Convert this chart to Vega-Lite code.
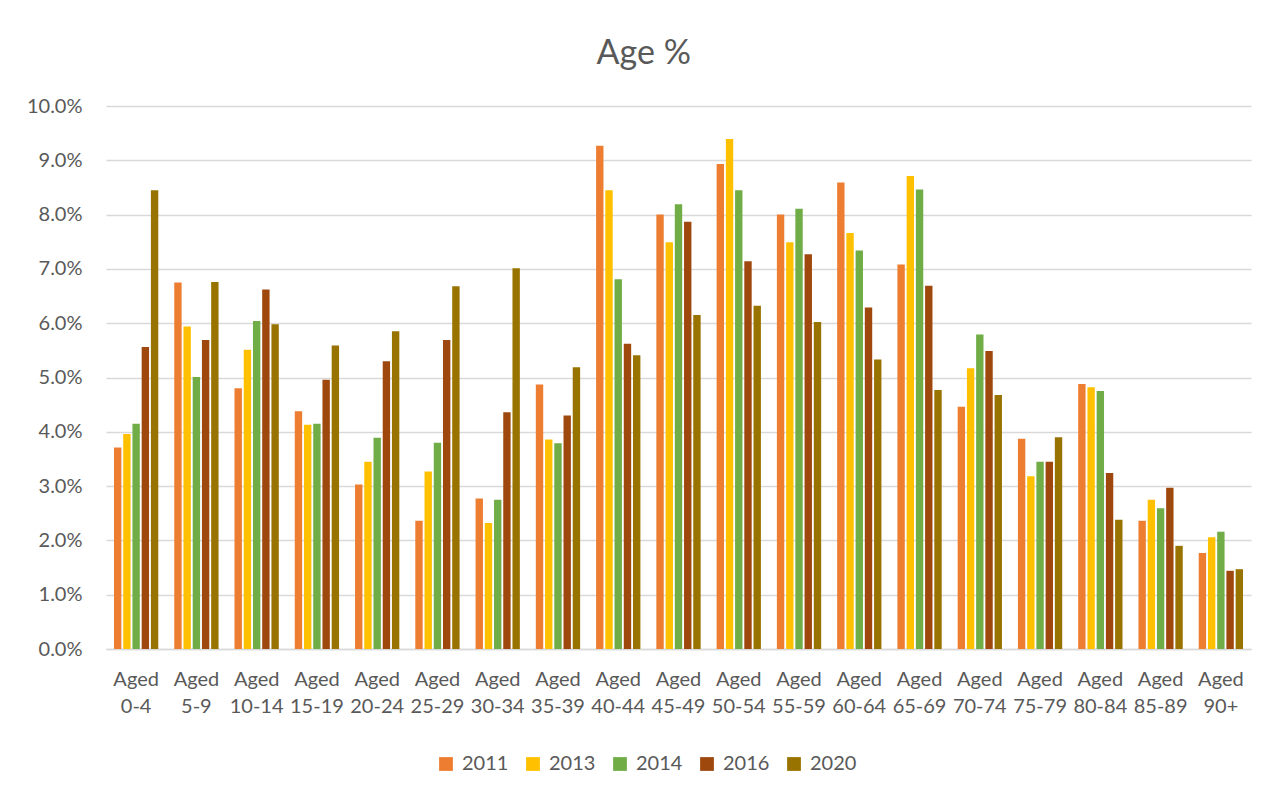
{
  "$schema": "https://vega.github.io/schema/vega-lite/v6.json",
  "width": 1145,
  "height": 543,
  "padding": {"left": 26, "top": 37, "right": 30, "bottom": 20},
  "background": "white",
  "title": {"text": "Age %", "fontSize": 34, "fontWeight": "normal", "color": "#595959", "anchor": "middle", "frame": "bounds", "offset": 25, "dx": 5, "font": "Lato"},
  "data": {
    "values": [
      {"age": "Aged 0-4", "2011": 3.71, "2013": 3.96, "2014": 4.15, "2016": 5.56, "2020": 8.45},
      {"age": "Aged 5-9", "2011": 6.75, "2013": 5.94, "2014": 5.01, "2016": 5.69, "2020": 6.76},
      {"age": "Aged 10-14", "2011": 4.80, "2013": 5.51, "2014": 6.04, "2016": 6.62, "2020": 5.98},
      {"age": "Aged 15-19", "2011": 4.38, "2013": 4.13, "2014": 4.15, "2016": 4.96, "2020": 5.59},
      {"age": "Aged 20-24", "2011": 3.03, "2013": 3.45, "2014": 3.89, "2016": 5.30, "2020": 5.85},
      {"age": "Aged 25-29", "2011": 2.36, "2013": 3.27, "2014": 3.80, "2016": 5.69, "2020": 6.68},
      {"age": "Aged 30-34", "2011": 2.77, "2013": 2.32, "2014": 2.75, "2016": 4.36, "2020": 7.01},
      {"age": "Aged 35-39", "2011": 4.87, "2013": 3.86, "2014": 3.79, "2016": 4.30, "2020": 5.19},
      {"age": "Aged 40-44", "2011": 9.27, "2013": 8.45, "2014": 6.81, "2016": 5.62, "2020": 5.41},
      {"age": "Aged 45-49", "2011": 8.00, "2013": 7.49, "2014": 8.19, "2016": 7.87, "2020": 6.15},
      {"age": "Aged 50-54", "2011": 8.93, "2013": 9.39, "2014": 8.45, "2016": 7.14, "2020": 6.32},
      {"age": "Aged 55-59", "2011": 8.00, "2013": 7.49, "2014": 8.11, "2016": 7.27, "2020": 6.02},
      {"age": "Aged 60-64", "2011": 8.59, "2013": 7.66, "2014": 7.34, "2016": 6.29, "2020": 5.33},
      {"age": "Aged 65-69", "2011": 7.08, "2013": 8.71, "2014": 8.46, "2016": 6.69, "2020": 4.77},
      {"age": "Aged 70-74", "2011": 4.46, "2013": 5.17, "2014": 5.79, "2016": 5.49, "2020": 4.68},
      {"age": "Aged 75-79", "2011": 3.87, "2013": 3.18, "2014": 3.45, "2016": 3.45, "2020": 3.90},
      {"age": "Aged 80-84", "2011": 4.88, "2013": 4.82, "2014": 4.75, "2016": 3.24, "2020": 2.38},
      {"age": "Aged 85-89", "2011": 2.36, "2013": 2.75, "2014": 2.59, "2016": 2.97, "2020": 1.90},
      {"age": "Aged 90+", "2011": 1.77, "2013": 2.06, "2014": 2.16, "2016": 1.44, "2020": 1.47}
    ]
  },
  "transform": [
    {"fold": ["2011", "2013", "2014", "2016", "2020"], "as": ["year", "value"]}
  ],
  "mark": {"type": "bar"},
  "encoding": {
    "x": {
      "field": "age",
      "type": "nominal",
      "sort": null,
      "scale": {"paddingInner": 0.265, "paddingOuter": 0.1325},
      "axis": {
        "title": null,
        "labelAngle": 0,
        "labelExpr": "split(datum.label, ' ')",
        "labelFontSize": 20,
        "labelLineHeight": 27,
        "labelColor": "#595959",
        "labelPadding": 20,
        "ticks": false,
        "domainColor": "#d9d9d9",
        "domainWidth": 1.5,
        "grid": false
      }
    },
    "xOffset": {
      "field": "year",
      "type": "nominal",
      "sort": ["2011", "2013", "2014", "2016", "2020"],
      "scale": {"paddingInner": 0.2, "paddingOuter": 0}
    },
    "y": {
      "field": "value",
      "type": "quantitative",
      "scale": {"domain": [0, 10], "nice": false},
      "axis": {
        "title": null,
        "values": [0, 1, 2, 3, 4, 5, 6, 7, 8, 9, 10],
        "labelExpr": "format(datum.value, '.1f') + '%'",
        "labelFontSize": 20,
        "labelColor": "#595959",
        "labelPadding": 24,
        "ticks": false,
        "domain": false,
        "grid": true,
        "gridColor": "#d9d9d9",
        "gridWidth": 1.5
      }
    },
    "color": {
      "field": "year",
      "type": "nominal",
      "sort": ["2011", "2013", "2014", "2016", "2020"],
      "scale": {
        "domain": ["2011", "2013", "2014", "2016", "2020"],
        "range": ["#ED7D31", "#FFC000", "#70AD47", "#9E480E", "#997300"]
      },
      "legend": {
        "title": null,
        "orient": "none",
        "legendX": 330,
        "legendY": 648,
        "direction": "horizontal",
        "symbolType": "square",
        "symbolSize": 190,
        "symbolStrokeWidth": 0,
        "labelFontSize": 20,
        "labelColor": "#595959",
        "labelOffset": 6,
        "columnPadding": 14
      }
    }
  },
  "config": {
    "font": "Lato",
    "view": {"stroke": null}
  }
}
